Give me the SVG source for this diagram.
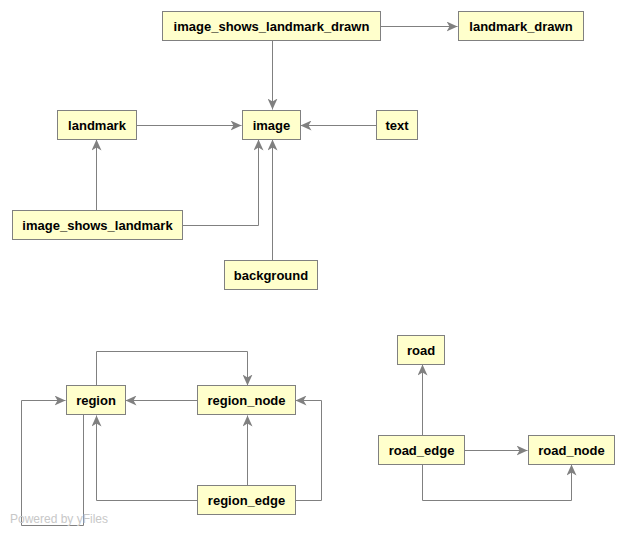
<svg xmlns="http://www.w3.org/2000/svg" width="624" height="535" viewBox="0 0 624 535">
<style>
.n rect{fill:#ffffcc;stroke:#808080;stroke-width:1}
.n text{font-family:"Liberation Sans",Arial,sans-serif;font-size:13px;font-weight:bold;fill:#000;text-anchor:middle}
.e path{fill:none;stroke:#808080;stroke-width:1;marker-end:url(#a)}
</style>
<defs>
<marker id="a" markerUnits="userSpaceOnUse" markerWidth="12" markerHeight="10" refX="11" refY="5" orient="auto" viewBox="0 0 12 10">
<path d="M11,5 L0,0 L3,5 L0,10 Z" fill="#808080"/>
</marker>
</defs>
<rect width="624" height="535" fill="#ffffff"/>
<g id="edges" class="e">
<path d="M380.5,26.5 H457.5"/>
<path d="M272.5,41 V109.5"/>
<path d="M136,125.5 H241.5"/>
<path d="M376,125.5 H300.5"/>
<path d="M96.5,210 V139.5"/>
<path d="M182,225.5 H258.5 V139.5"/>
<path d="M272.5,260 V139.5"/>
<path d="M96.5,386 V351.5 H247.5 V385.5"/>
<path d="M197,400.5 H125.5"/>
<path d="M247.5,485 V415.5"/>
<path d="M197,500.5 H96.5 V415.5"/>
<path d="M295,500.5 H321.5 V400.5 H295.5"/>
<path d="M83.5,415 V525.5 H21.5 V400.5 H65.5"/>
<path d="M422.5,435 V364.5"/>
<path d="M464,450.5 H527.5"/>
<path d="M422.5,464 V500.5 H571.5 V464.5"/>
</g>
<g id="image_shows_landmark_drawn" class="n"><rect x="162.5" y="11.5" width="218" height="29"/><text x="271.5" y="30.5">image_shows_landmark_drawn</text></g>
<g id="landmark_drawn" class="n"><rect x="458.5" y="11.5" width="125" height="29"/><text x="521" y="30.5">landmark_drawn</text></g>
<g id="landmark" class="n"><rect x="57.5" y="110.5" width="79" height="29"/><text x="97" y="129.5">landmark</text></g>
<g id="image" class="n"><rect x="242.5" y="110.5" width="58" height="29"/><text x="271.5" y="129.5">image</text></g>
<g id="text" class="n"><rect x="376.5" y="110.5" width="41" height="29"/><text x="397" y="129.5">text</text></g>
<g id="image_shows_landmark" class="n"><rect x="12.5" y="210.5" width="170" height="29"/><text x="97.5" y="229.5">image_shows_landmark</text></g>
<g id="background" class="n"><rect x="224.5" y="260.5" width="93" height="29"/><text x="271" y="279.5">background</text></g>
<g id="region" class="n"><rect x="66.5" y="385.5" width="59" height="29"/><text x="96" y="404.5">region</text></g>
<g id="region_node" class="n"><rect x="197.5" y="385.5" width="98" height="29"/><text x="246.5" y="404.5">region_node</text></g>
<g id="region_edge" class="n"><rect x="197.5" y="485.5" width="98" height="29"/><text x="246.5" y="504.5">region_edge</text></g>
<g id="road" class="n"><rect x="397.5" y="335.5" width="47" height="29"/><text x="421" y="354.5">road</text></g>
<g id="road_edge" class="n"><rect x="378.5" y="435.5" width="86" height="29"/><text x="421.5" y="454.5">road_edge</text></g>
<g id="road_node" class="n"><rect x="528.5" y="435.5" width="86" height="29"/><text x="571.5" y="454.5">road_node</text></g>
<text x="10" y="523" font-family="'Liberation Sans',Arial,sans-serif" font-size="12" fill="#c8c8c8">Powered by yFiles</text>
</svg>
